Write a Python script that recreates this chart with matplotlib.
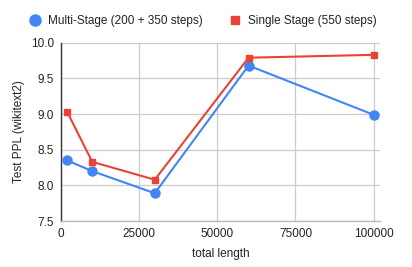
import matplotlib.pyplot as plt
from matplotlib.lines import Line2D

plt.rcParams['font.family'] = ['Liberation Sans', 'DejaVu Sans']

# data
lengths = [2000, 10000, 30000, 60000, 100000]
multi_stage = [8.35, 8.20, 7.89, 9.68, 8.99]
single_stage = [9.03, 8.33, 8.08, 9.79, 9.83]
labels = ['Multi-Stage (200 + 350 steps)', 'Single Stage (550 steps)']
x_ticks = [0, 25000, 50000, 75000, 100000]
y_ticks = [7.5, 8.0, 8.5, 9.0, 9.5, 10.0]

blue = '#4285F4'
red = '#EA4335'
text_col = '#222222'
grid_col = '#cccccc'

fig = plt.figure(figsize=(4.12, 2.67), dpi=100)
ax = fig.add_axes([0.148, 0.172, 0.774, 0.668])

ax.plot(lengths, multi_stage, color=blue, lw=1.5, marker='o', ms=6.5,
        zorder=3, clip_on=False)
ax.plot(lengths, single_stage, color=red, lw=1.5, marker='s', ms=4.8,
        zorder=4, clip_on=False)

ax.set_xlim(0, 102000)
ax.set_ylim(7.5, 10.0)
ax.set_xticks(x_ticks)
ax.set_xticklabels([str(v) for v in x_ticks])
ax.set_yticks(y_ticks)
ax.set_yticklabels(['%.1f' % v for v in y_ticks])
ax.tick_params(length=0, labelsize=8.5, colors=text_col, pad=5)
ax.grid(True, color=grid_col, lw=0.9)
ax.set_axisbelow(True)

for s in ['top', 'right']:
    ax.spines[s].set_visible(False)
ax.spines['left'].set_color('#333333')
ax.spines['left'].set_linewidth(1.0)
ax.spines['bottom'].set_color('#bbbbbb')
ax.spines['bottom'].set_linewidth(1.0)

ax.set_xlabel('total length', fontsize=8.5, color=text_col, labelpad=6)
ax.set_ylabel('Test PPL (wikitext2)', fontsize=8.5, color=text_col, labelpad=4)

handles = [
    Line2D([], [], color=blue, marker='o', ms=8, lw=0),
    Line2D([], [], color=red, marker='s', ms=6, lw=0),
]
fig.legend(handles, labels, loc='center left', bbox_to_anchor=(0.045, 0.922),
           ncol=2, frameon=False, fontsize=8.5, handlelength=1.0,
           handletextpad=0.6, columnspacing=2.2, labelcolor=text_col)

plt.savefig('out.png', dpi=100)
